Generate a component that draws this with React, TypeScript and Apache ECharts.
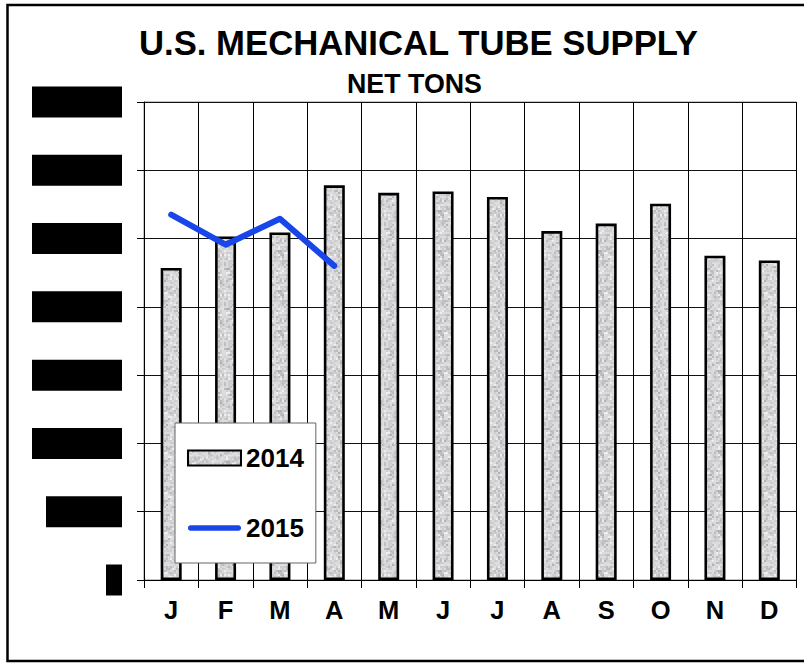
import React, { useEffect, useRef } from "react";
import * as echarts from "echarts";

const months = ["J", "F", "M", "A", "M", "J", "J", "A", "S", "O", "N", "D"];
const values2014 = [22850, 25150, 25450, 28900, 28350, 28450, 28050, 25550, 26100, 27550, 23750, 23400];
const values2015 = [26750, 24550, 26450, 23000];
const seriesNames = ["2014", "2015"];
const yMin = 0;
const yMax = 35000;
const yStep = 5000;

const FONT = "'Liberation Sans', Arial, Helvetica, sans-serif";

function makeTexture(): string | null {
  const cells = 20;
  const px = 2;
  const size = cells * px;
  const c = document.createElement("canvas");
  c.width = size;
  c.height = size;
  const ctx = c.getContext("2d");
  if (!ctx) return null;
  ctx.fillStyle = "#dcdcdc";
  ctx.fillRect(0, 0, size, size);
  // deterministic speckle texture (style only)
  for (let y = 0; y < cells; y++) {
    for (let x = 0; x < cells; x++) {
      const h = Math.abs(Math.sin(x * 12.9898 + y * 78.233) * 43758.5453) % 1;
      const h2 = Math.abs(Math.sin(x * 0.9 + y * 1.7) + Math.cos(x * 1.3 - y * 0.8));
      let g = 220;
      if (h < 0.12) g = 188;
      else if (h < 0.3) g = 204;
      else if (h > 0.85) g = 238;
      if (h2 < 0.3) g -= 12;
      ctx.fillStyle = `rgb(${g},${g},${g + 3})`;
      ctx.fillRect(x * px, y * px, px, px);
    }
  }
  return c.toDataURL();
}

export default function App() {
  const ref = useRef<HTMLDivElement>(null);

  useEffect(() => {
    if (!ref.current) return;
    const chart = echarts.init(ref.current, null, { renderer: "svg" });
    const tex = makeTexture();
    const barFill: any = tex
      ? { image: tex, repeat: "repeat", imageWidth: 40, imageHeight: 40 }
      : "#d6d6d6";
    const option: any = {
      animation: false,
      backgroundColor: "#ffffff",
      textStyle: { fontFamily: FONT },
      title: [
        {
          text: "U.S. MECHANICAL TUBE SUPPLY",
          left: 139,
          top: 25,
          padding: 0,
          textStyle: { fontFamily: FONT, fontSize: 34.7, fontWeight: "bold", color: "#000" },
        },
        {
          text: "NET TONS",
          left: 347,
          top: 70,
          padding: 0,
          textStyle: { fontFamily: FONT, fontSize: 26.8, fontWeight: "bold", color: "#000" },
        },
      ],
      graphic: [
        {
          type: "rect",
          shape: { x: 7.5, y: 5, width: 820, height: 656 },
          style: { fill: "none", stroke: "#000", lineWidth: 2.5 },
          silent: true,
          z: 100,
        },
      ],
      grid: {
        left: 144,
        right: 7.5,
        top: 102,
        bottom: 83,
        show: true,
        borderColor: "#888",
        borderWidth: 1,
        backgroundColor: "transparent",
      },
      legend: {
        orient: "vertical",
        left: 175,
        top: 423,
        padding: [22, 12, 22, 12],
        itemGap: 44,
        itemWidth: 53,
        itemHeight: 15,
        backgroundColor: "#fff",
        borderColor: "#666",
        borderWidth: 1,
        data: [
          { name: seriesNames[0], icon: "rect" },
          {
            name: seriesNames[1],
            icon: "path://M3,0 L55,0 A3,3 0 0 1 55,6 L3,6 A3,3 0 0 1 3,0 Z",
          },
        ],
        textStyle: { fontFamily: FONT, fontSize: 26, fontWeight: "bold", color: "#000" },
        z: 10,
      },
      xAxis: {
        type: "category",
        data: months,
        boundaryGap: true,
        axisLine: { show: true, lineStyle: { color: "#000", width: 1 } },
        axisTick: { show: true, length: 8, inside: false, lineStyle: { color: "#000" } },
        splitLine: { show: true, interval: 0, lineStyle: { color: "#000", width: 1 } },
        axisLabel: {
          interval: 0,
          margin: 17,
          fontFamily: FONT,
          fontSize: 25.5,
          fontWeight: "bold",
          color: "#000",
        },
      },
      yAxis: {
        type: "value",
        min: yMin,
        max: yMax,
        interval: yStep,
        axisLine: { show: true, lineStyle: { color: "#000", width: 1 } },
        axisTick: { show: true, length: 7, inside: false, lineStyle: { color: "#000" } },
        splitLine: { show: true, lineStyle: { color: "#111", width: 1 } },
        axisLabel: {
          margin: 22,
          formatter: (v: number) => {
            const s = v.toLocaleString("en-US");
            if (v === 0) return "{z|" + s + "}";
            if (v === 5000) return "{s|" + s + "}";
            return "{w|" + s + "}";
          },
          rich: {
            z: { width: 16, height: 31, backgroundColor: "#000", color: "#000", fontSize: 20, align: "right" },
            s: { width: 76, height: 31, backgroundColor: "#000", color: "#000", fontSize: 20, align: "right" },
            w: { width: 90, height: 31, backgroundColor: "#000", color: "#000", fontSize: 20, align: "right" },
          },
        },
      },
      series: [
        {
          name: seriesNames[0],
          type: "bar",
          data: values2014,
          barWidth: 21,
          itemStyle: { color: barFill, borderColor: "#000", borderWidth: 2.6 },
          z: 2,
        },
        {
          name: seriesNames[1],
          type: "line",
          data: values2015,
          symbol: "none",
          lineStyle: { color: "#1846e8", width: 6, cap: "round", join: "round" },
          itemStyle: { color: "#1846e8" },
          z: 3,
        },
      ],
    };
    chart.setOption(option);
    return () => chart.dispose();
  }, []);

  return (
    <div
      ref={ref}
      style={{ position: "fixed", left: 0, top: 0, width: 804, height: 663 }}
    />
  );
}
